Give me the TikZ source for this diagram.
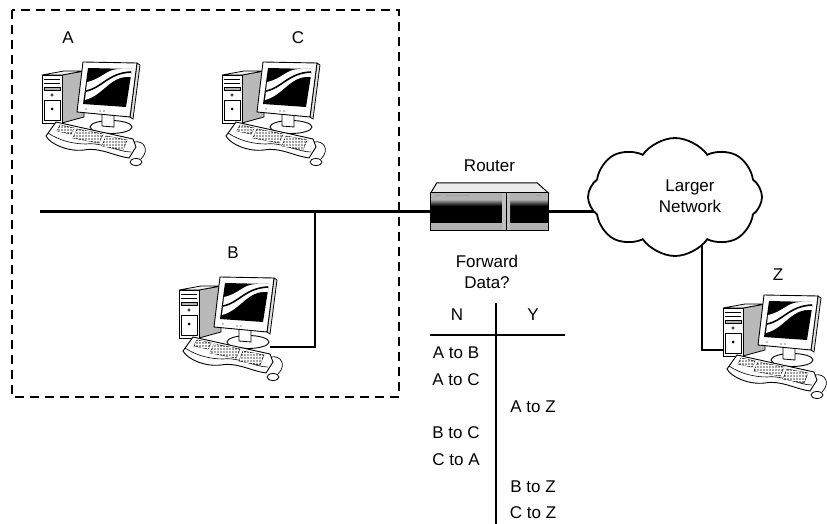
\documentclass[tikz,border=0pt]{standalone}
\usepackage{fontspec}
\setmainfont{Liberation Sans}
\usetikzlibrary{shapes.symbols,patterns,backgrounds}
\tikzset{
	wire/.style={line width=2.3pt},
	lbl/.style={font=\fontsize{17}{21}\selectfont, inner sep=1pt},
	keyblock/.style={fill=gray!70, draw=black, line width=0.5pt, postaction={pattern=grid, pattern color=white}},
	computer/.pic={
		\filldraw[fill=gray!55, line width=0.8pt] (20,13) -- (42,9) -- (42,55) -- (20,61) -- cycle;
		\filldraw[fill=gray!10, line width=0.8pt] (0,13) -- (22,9) -- (42,9) -- (20,13) -- cycle;
		\filldraw[fill=white, line width=0.8pt] (0,13) rectangle (20,61);
		\draw[line width=0.6pt] (2,17) -- (18,17) (2,21) -- (18,21);
		\filldraw[fill=gray!60, line width=0.6pt] (2,25) rectangle (18,28);
		\draw[line width=0.5pt] (10,33) circle (1.2);
		\draw[line width=0.6pt] (2,38) rectangle (18,58);
		\fill (10,47) circle (1.5);
		\filldraw[fill=white, line width=0.9pt] (69,65) ellipse (21 and 6.5);
		\filldraw[fill=white, line width=0.8pt] (60,52) -- (72,53) -- (72,65) -- (60,64) -- cycle;
		\filldraw[fill=gray!25, line width=0.8pt] (95,1) -- (98,3) -- (91,57) -- (88,55) -- cycle;
		\filldraw[fill=white, line width=0.9pt] (41,0) -- (95,1) -- (88,55) -- (35,50) -- cycle;
		\fill[black] (46,6) -- (90,7) -- (84,45) -- (41,42) -- cycle;
		\fill[white] (45,20) .. controls (60,17) and (64,7) .. (78,7) -- (90,7) -- (89,15) .. controls (68,13) and (62,33) .. (43,38) -- cycle;
		\draw[line width=1.6pt] (44,29) .. controls (60,26) and (66,11) .. (89,10);
		\fill (44,47) circle (0.7) (58,49) circle (0.6) (62,49) circle (0.6);
		\filldraw[fill=white, line width=0.9pt] (14,60) -- (91,77) -- (94,85) -- (87,96) .. controls (72,94) and (58,85) .. (42,88) .. controls (26,90) and (8,82) .. (4,74) -- cycle;
		\draw[line width=0.6pt] (6,71) .. controls (18,79) and (32,82) .. (44,82) .. controls (60,80) and (76,90) .. (89,90);
		\filldraw[keyblock] (18,63) -- (32,66) -- (29,72) -- (15,69) -- cycle;
		\filldraw[keyblock] (35,67) -- (61,72) -- (57,81) -- (31,76) -- cycle;
		\filldraw[keyblock] (64,74) -- (85,78) -- (81,88) -- (60,84) -- cycle;
		\draw[line width=0.7pt] (92,80) .. controls (102,78) and (108,88) .. (99,97);
		\filldraw[fill=white, line width=0.8pt] (94,100) ellipse (6 and 3.5);
		\coordinate (-west) at (0,55);
		\coordinate (-east) at (91,70);
	}
}
\begin{document}
\begin{tikzpicture}[x=1pt, y=-1pt]
	\useasboundingbox (0,0) rectangle (827,524);
	\draw[line width=1.8pt, dash pattern=on 9pt off 6pt] (12,10) rectangle (399,397);
	\pic (pcA) at (42,62) {computer};
	\pic (pcC) at (222,62) {computer};
	\pic (pcB) at (179,277) {computer};
	\pic (pcZ) at (723,295) {computer};
	\node[lbl] (labA) at (68,38) {A};
	\node[lbl] (labC) at (298,38) {C};
	\node[lbl] (labB) at (233,253) {B};
	\node[lbl] (labZ) at (778,275) {Z};
	\node[minimum width=117pt, minimum height=37pt, inner sep=0pt] (router) at (489.5,211.5) {};
	\filldraw[fill=gray!15, line width=1pt] (router.north west) -- ([xshift=6pt, yshift=10pt]router.north west) -- ([xshift=-11pt, yshift=10pt]router.north east) -- (router.north east) -- cycle;
	\fill[black] (router.south west) rectangle (router.north east);
	\shade[top color=gray!70, bottom color=black] ([yshift=-7pt]router.north west) rectangle ([yshift=-13pt]router.north east);
	\shade[left color=gray!60, middle color=white, right color=gray!60] (router.north west) rectangle ([yshift=-7pt]router.north east);
	\shade[left color=gray!60, middle color=white, right color=gray!60] ([yshift=7pt]router.south west) rectangle (router.south east);
	\shade[left color=gray!50, middle color=white, right color=gray!50] ([xshift=12.5pt]router.south) rectangle ([xshift=20.5pt]router.north);
	\draw[line width=1pt] ([xshift=16.5pt]router.south) -- ([xshift=16.5pt]router.north);
	\draw[gray!75, line width=1pt] ([xshift=4pt, yshift=-3pt]router.north west) -- ++(6,0) ++(5,0) -- ++(24,0);
	\draw[gray!75, line width=1pt] ([xshift=-12pt, yshift=-3pt]router.north east) -- ++(6,0);
	\draw[line width=1pt] (router.south west) rectangle (router.north east);
	\node[lbl] (routerlab) at (489.5,166) {Router};
	\node[cloud, cloud puffs=8, cloud puff arc=110, aspect=1.5, draw, line width=1.8pt, fill=white, minimum width=174pt, minimum height=118pt] (cloud) at (675,197) {};
	\node[lbl, align=center] (netlab) at (690,196) {Larger\\Network};
	\coordinate (busend) at (40,211.5);
	\coordinate (tap) at (315,211.5);
	\begin{scope}[on background layer]
		\draw[wire] (busend) -- (router.west);
		\draw[wire] (tap) |- (pcB-east);
		\draw[wire] (router.east) -- (router.east -| cloud.center);
		\draw[wire] ([xshift=27pt]cloud.center) |- (pcZ-west);
	\end{scope}
	\node[lbl, align=center] (fwd) at (487,272) {Forward\\Data?};
	\node[lbl] (colN) at (457,315) {N};
	\node[lbl] (colY) at (533,315) {Y};
	\coordinate (vtop) at (496,303);
	\coordinate (vbot) at (496,524);
	\coordinate (hleft) at (430,335);
	\coordinate (hright) at (565,335);
	\draw[wire] (vtop) -- (vbot);
	\draw[wire] (hleft) -- (hright);
	\node[lbl] (rowAB) at (456,353) {A to B};
	\node[lbl] (rowAC) at (456,380) {A to C};
	\node[lbl] (rowAZ) at (533,407) {A to Z};
	\node[lbl] (rowBC) at (456,433) {B to C};
	\node[lbl] (rowCA) at (456,460) {C to A};
	\node[lbl] (rowBZ) at (533,487) {B to Z};
	\node[lbl] (rowCZ) at (533,513) {C to Z};
\end{tikzpicture}
\end{document}
